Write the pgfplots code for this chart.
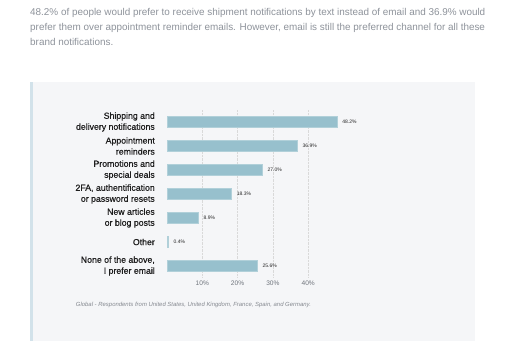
\documentclass[border=0pt]{standalone}
\usepackage{fontspec}
\setmainfont{Liberation Sans}
\newfontfamily\medfont{Liberation Sans}[FakeBold=0.6]
\usepackage{pgfplots}
\pgfplotsset{compat=1.18}
\definecolor{barc}{HTML}{97C0CD}
\definecolor{panel}{HTML}{F5F6F8}
\definecolor{stripe}{HTML}{D2E2EA}
\definecolor{para}{HTML}{8E939B}
\definecolor{tickc}{HTML}{6F747C}
\definecolor{lab}{HTML}{1E1E1E}
\begin{document}
\begin{tikzpicture}[x=1pt,y=1pt]
\useasboundingbox (0,0) rectangle (512,358);
\fill[white] (0,0) rectangle (512,358);
\fill[panel] (30,16.5) rectangle (475,276);
\fill[stripe] (30,16.5) rectangle (33,276);
\begin{scope}[every node/.style={anchor=base west, inner sep=0pt, text=para, font=\fontsize{9.9}{11}\selectfont}]
\node at (30,342.5) {48.2\% of people would prefer to receive shipment notifications by text instead of email and 36.9\% would};
\node at (30,327.5) {prefer them over appointment reminder emails. However, email is still the preferred channel for all these};
\node at (30,312.5) {brand notifications.};
\end{scope}
\node[anchor=base west, inner sep=0pt, text=tickc!85, font=\fontsize{5.95}{6}\selectfont\itshape] at (75.7,51.5) {Global - Respondents from United States, United Kingdom, France, Spain, and Germany.};
\begin{axis}[
  at={(167pt,80pt)}, anchor=south west, scale only axis,
  width=176.5pt, height=168pt,
  xmin=0, xmax=50, ymin=-0.5, ymax=6.5, y dir=reverse,
  xbar, bar width=11.5pt,
  axis line style={draw=none}, major tick length=0pt,
  xtick={10,20,30,40}, xticklabels={10\%,20\%,30\%,40\%},
  xticklabel style={font=\fontsize{6.6}{7}\selectfont, text=tickc, inner sep=0pt, yshift=-3pt},
  ytick={0,1,2,3,4,5,6},
  yticklabels={{Shipping and\\delivery notifications},{Appointment\\reminders},{Promotions and\\special deals},{2FA, authentification\\or password resets},{New articles\\or blog posts},{Other},{None of the above,\\I prefer email}},
  yticklabel style={font=\medfont\fontsize{8.75}{11}\selectfont, text=lab, align=right, inner sep=0pt, xshift=-12pt},
  xmajorgrids, grid style={densely dotted, black!15},
  point meta=x,
  /pgf/number format/assume math mode=true,
  nodes near coords={\pgfmathprintnumber[fixed,fixed zerofill,precision=1]{\pgfplotspointmeta}\%},
  nodes near coords style={font=\fontsize{5}{5}\selectfont, text=black!85, inner sep=0pt, anchor=west, xshift=5pt},
]
\addplot[fill=barc, draw=barc!75!white, line width=0.6pt] coordinates {(48.2,0) (36.9,1) (27.0,2) (18.3,3) (8.9,4) (0.4,5) (25.6,6)};
\end{axis}
\end{tikzpicture}
\end{document}
